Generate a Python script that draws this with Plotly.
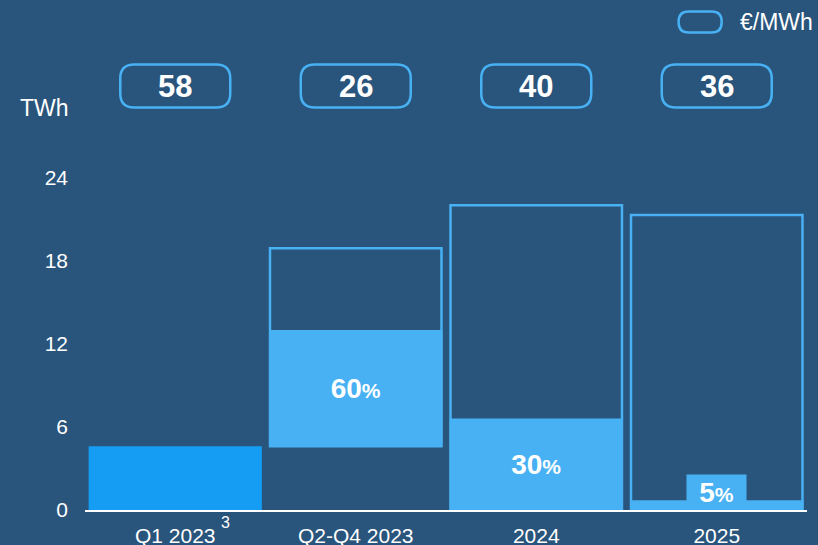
import plotly.graph_objects as go

categories = ["Q1 2023", "Q2-Q4 2023", "2024", "2025"]
actual_q1 = [4.6, None, None, None]
volume_base = [None, 4.6, 0, 0]
volume_total = [None, 14.3, 22.0, 21.3]
hedged = [None, 8.4, 6.6, 0.7]
hedged_pct = [None, "60", "30", "5"]
prices = [58, 26, 40, 36]
y_ticks = [0, 6, 12, 18, 24]

BG = "#29547B"
DARK = "#149DF2"
LIGHT = "#48B1F3"
FONT = "Liberation Sans"

def pct_label(p):
    return f"<b>{p}<span style='font-size:21px'>%</span></b>"

fig = go.Figure()
fig.add_trace(go.Bar(x=categories, y=actual_q1, width=0.96,
                     marker=dict(color=DARK, line=dict(width=0)), hoverinfo="skip"))
fig.add_trace(go.Bar(x=categories, y=volume_total, base=volume_base, width=0.95,
                     marker=dict(color="rgba(0,0,0,0)", line=dict(color=LIGHT, width=2.5)),
                     hoverinfo="skip"))
txt = [pct_label(p) if (p is not None and i < 3) else "" for i, p in enumerate(hedged_pct)]
fig.add_trace(go.Bar(x=categories, y=hedged, base=volume_base, width=0.96,
                     marker=dict(color=LIGHT, line=dict(width=0)),
                     text=txt, textposition="inside", insidetextanchor="middle",
                     textangle=0, textfont=dict(color="white", size=28, family=FONT),
                     hoverinfo="skip"))

def rrect(w, h, r):
    a, b = w / 2, h / 2
    return (f"M {-a+r},{-b} L {a-r},{-b} Q {a},{-b} {a},{-b+r} L {a},{b-r} "
            f"Q {a},{b} {a-r},{b} L {-a+r},{b} Q {-a},{b} {-a},{b-r} "
            f"L {-a},{-b+r} Q {-a},{-b} {-a+r},{-b} Z")

shapes = []
annotations = []
for i, p in enumerate(prices):
    shapes.append(dict(type="path", xref="x", yref="paper", xsizemode="pixel",
                       ysizemode="pixel", xanchor=i, yanchor=1.155,
                       path=rrect(110, 43, 14), line=dict(color=LIGHT, width=2.5),
                       fillcolor="rgba(0,0,0,0)", layer="above"))
    annotations.append(dict(x=i, y=1.155, xref="x", yref="paper", text=f"<b>{p}</b>",
                            yanchor="middle", showarrow=False,
                            font=dict(color="white", size=31, family=FONT)))

# legend
shapes.append(dict(type="path", xref="paper", yref="paper", xsizemode="pixel",
                   ysizemode="pixel", xanchor=0.852, yanchor=1.330,
                   path=rrect(43, 21, 10), line=dict(color=LIGHT, width=2.5),
                   fillcolor="rgba(0,0,0,0)"))
annotations.append(dict(x=0.904, y=1.330, xref="paper", yref="paper", text="€/MWh",
                        xanchor="left", yanchor="middle", showarrow=False,
                        font=dict(color="white", size=23, family=FONT)))
# axis title
annotations.append(dict(x=-0.0934, y=1.0966, xref="paper", yref="paper", text="TWh",
                        xanchor="left", yanchor="middle", showarrow=False,
                        font=dict(color="white", size=23, family=FONT)))
# footnote marker
annotations.append(dict(x=0, y=-0.033, xref="x", yref="paper", text="3",
                        xshift=50, yanchor="middle", showarrow=False,
                        font=dict(color="white", size=16, family=FONT)))
# 2025 hedged share label with box
annotations.append(dict(x=3, y=0, xref="x", yref="y", yanchor="bottom",
                        text=pct_label(hedged_pct[3]), showarrow=False,
                        width=59, height=34, bgcolor=LIGHT, borderpad=0,
                        font=dict(color="white", size=28, family=FONT)))

fig.update_layout(
    width=818, height=545, barmode="overlay", showlegend=False,
    paper_bgcolor=BG, plot_bgcolor=BG,
    margin=dict(l=84.5, r=10.5, t=143.4, b=35, autoexpand=False),
    font=dict(family=FONT, color="white", size=21),
    shapes=shapes, annotations=annotations,
    xaxis=dict(type="category", showline=True, linecolor="white", linewidth=2,
               showgrid=False, ticks="", tickfont=dict(size=21, color="white"),
               ticklabelstandoff=6, range=[-0.5, 3.5], fixedrange=True,
               automargin=False),
    yaxis=dict(range=[0, 26.5], tickvals=y_ticks, showgrid=False, zeroline=False,
               showline=False, ticks="", tickfont=dict(size=21, color="white"),
               ticklabelstandoff=16, fixedrange=True, automargin=False),
)
fig.write_html("out.html", config={"displayModeBar": False},
               post_script="document.body.style.margin='0';document.body.style.overflow='hidden';")
